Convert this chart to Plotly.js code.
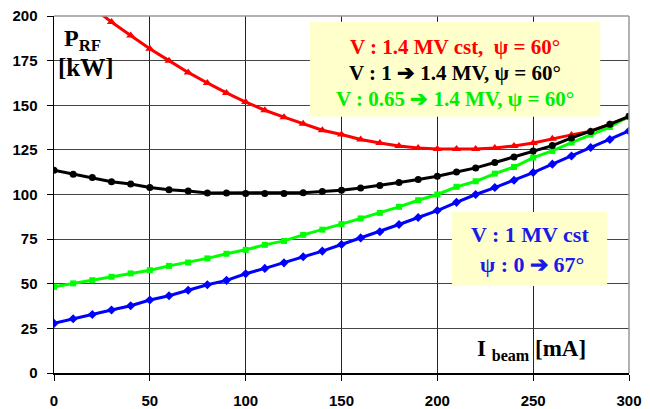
<!DOCTYPE html>
<html>
<head>
<meta charset="utf-8">
<script src="https://cdn.plot.ly/plotly-3.0.1.min.js"></script>
</head>
<body style="margin:0;padding:0;background:#fff;">
<div id="chart"></div>
<script>
// Beam current [mA]
const currentMA = [0,10,20,30,40,50,60,70,80,90,100,110,120,130,140,150,160,170,180,190,200,210,220,230,240,250,260,270,280,290,300];

// P_RF [kW] : V = 1.4 MV cst, psi = 60°
const red14MV = [222,213,205,196.6,189.1,181.7,175.0,168.4,162.5,156.9,151.8,147.2,143.3,139.6,136.0,133.6,130.8,128.9,127.2,126.1,125.5,125.5,125.5,126.1,127.2,128.9,131.3,133.4,135.5,139.3,143.4];

// P_RF [kW] : V = 1 -> 1.4 MV, psi = 60°
const black1to14MV = [113.6,111.4,109.5,107.1,105.9,103.9,102.6,102.0,100.9,100.9,100.6,100.6,100.6,101.0,101.7,102.4,103.7,105.0,106.7,108.4,110.2,112.6,114.9,117.9,121.0,124.4,127.4,131.7,135.3,139.3,143.8];

// P_RF [kW] : V = 0.65 -> 1.4 MV, psi = 60°
const green065to14MV = [48.3,50.2,52.0,53.9,55.8,57.6,60.0,61.9,64.2,66.8,69.0,71.8,74.0,77.4,80.3,83.4,86.6,89.7,93.1,96.8,100.0,104.3,107.4,111.7,115.4,120.7,124.4,129.1,133.6,137.8,143.8];

// P_RF [kW] : V = 1 MV cst, psi = 0 -> 67°
const blue1MV = [27.8,30.4,32.8,35.3,37.7,40.9,43.3,46.4,49.4,51.9,55.6,58.6,61.7,65.1,68.3,72.0,75.7,79.1,83.2,87.1,91.0,95.6,100.0,103.9,108.0,112.3,117.0,121.6,126.3,130.8,135.6];

const xTicks = [0,50,100,150,200,250,300];
const yTicks = [0,25,50,75,100,125,150,175,200];

const serif = '"Liberation Serif", serif';
const sans = 'Arial';

const traces = [
  {x: currentMA, y: red14MV, mode: 'lines+markers', name: 'V : 1.4 MV cst',
   line: {color: '#ff0000', width: 3}, marker: {symbol: 'triangle-up', size: 8, color: '#ff0000'}},
  {x: currentMA, y: green065to14MV, mode: 'lines+markers', name: 'V : 0.65 -> 1.4 MV',
   line: {color: '#00ff00', width: 3}, marker: {symbol: 'square', size: 6, color: '#00ff00'}},
  {x: currentMA, y: blue1MV, mode: 'lines+markers', name: 'V : 1 MV cst',
   line: {color: '#0000ff', width: 3}, marker: {symbol: 'diamond', size: 7, color: '#0000ff'}},
  {x: currentMA, y: black1to14MV, mode: 'lines+markers', name: 'V : 1 -> 1.4 MV',
   line: {color: '#000000', width: 3}, marker: {symbol: 'circle', size: 7, color: '#000000'}}
];

function ann(x, y, text, size, color) {
  return {xref: 'paper', yref: 'paper', x: x, y: y, showarrow: false, xanchor: 'center', yanchor: 'middle',
          text: text, font: {family: serif, size: size, color: color, weight: 'bold'}};
}

const layout = {
  width: 650, height: 409,
  margin: {l: 54, r: 21, t: 16, b: 36, pad: 0},
  paper_bgcolor: '#ffffff', plot_bgcolor: '#ffffff',
  showlegend: false,
  xaxis: {
    range: [0, 300], tickvals: xTicks, ticktext: xTicks.map(String),
    showgrid: true, gridcolor: '#222', gridwidth: 1,
    showline: true, linecolor: '#000', linewidth: 1.5,
    ticks: 'outside', ticklen: 6, tickcolor: '#000', ticklabelstandoff: 7,
    tickfont: {family: sans, size: 15, color: '#000', weight: 'bold'},
    zeroline: false, fixedrange: true
  },
  yaxis: {
    range: [0, 200], tickvals: yTicks, ticktext: yTicks.map(String),
    showgrid: true, gridcolor: '#444', gridwidth: 1,
    showline: true, linecolor: '#000', linewidth: 1.5,
    ticks: 'outside', ticklen: 6, tickcolor: '#000', ticklabelstandoff: 6,
    tickfont: {family: sans, size: 15, color: '#000', weight: 'bold'},
    zeroline: false, fixedrange: true
  },
  shapes: [
    {type: 'line', xref: 'paper', yref: 'paper', x0: 0, x1: 1, y0: 1, y1: 1, line: {color: '#999', width: 1.5}},
    {type: 'line', xref: 'paper', yref: 'paper', x0: 1, x1: 1, y0: 0, y1: 1, line: {color: '#999', width: 1.5}},
    {type: 'rect', xref: 'paper', yref: 'paper', x0: 0.445, x1: 0.950, y0: 0.718, y1: 0.984,
     fillcolor: '#ffffcc', line: {width: 0}, layer: 'above'},
    {type: 'rect', xref: 'paper', yref: 'paper', x0: 0.692, x1: 0.962, y0: 0.244, y1: 0.451,
     fillcolor: '#ffffcc', line: {width: 0}, layer: 'above'}
  ],
  annotations: [
    ann(0.697, 0.914, 'V : 1.4 MV cst,  ψ = 60°', 21, '#ff0000'),
    ann(0.697, 0.839, 'V : 1 ➔ 1.4 MV, ψ = 60°', 21, '#000000'),
    ann(0.697, 0.767, 'V : 0.65 ➔ 1.4 MV, ψ = 60°', 21, '#00ee00'),
    ann(0.827, 0.387, 'V : 1 MV cst', 22, '#1a1ae6'),
    ann(0.831, 0.303, 'ψ : 0 ➔ 67°', 22, '#1a1ae6'),
    ann(0.050, 0.932, 'P<sub>RF</sub>', 24, '#000'),
    ann(0.056, 0.857, '[kW]', 25, '#000'),
    ann(0.831, 0.064, 'I <sub>beam</sub> [mA]', 23, '#000')
  ]
};

Plotly.newPlot('chart', traces, layout, {displayModeBar: false, staticPlot: true});
</script>
</body>
</html>
